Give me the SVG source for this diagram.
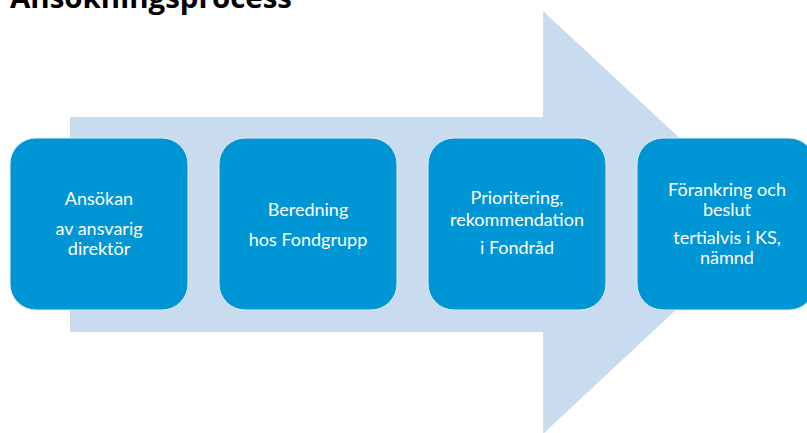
<svg xmlns="http://www.w3.org/2000/svg" width="807" height="433" viewBox="0 0 807 433">
<style>
.box{fill:#0096D6;stroke:#e6eef6;stroke-width:1}
.lbl{fill:#ffffff;font-family:Lato,"Open Sans","Liberation Sans",sans-serif;font-size:18px;text-anchor:middle}
.title{fill:#000000;font-family:"Open Sans","Liberation Sans",sans-serif;font-size:29px;font-weight:bold}
</style>
<rect width="807" height="433" fill="#ffffff"/>
<text class="title" x="10" y="8" textLength="282" lengthAdjust="spacingAndGlyphs">Ansökningsprocess</text>
<g id="arrow">
<polygon points="70,117 543,117 543,11 770,222 543,434 543,332 70,332" fill="#C9DCEF"/>
</g>
<g id="n1">
<rect class="box" x="10" y="138" width="178" height="172" rx="26"/>
<text class="lbl" x="99" y="205">Ansökan</text>
<text class="lbl" x="99" y="235">av ansvarig</text>
<text class="lbl" x="99" y="255">direktör</text>
</g>
<g id="n2">
<rect class="box" x="219" y="138" width="178" height="172" rx="26"/>
<text class="lbl" x="308" y="216">Beredning</text>
<text class="lbl" x="308" y="246">hos Fondgrupp</text>
</g>
<g id="n3">
<rect class="box" x="428" y="138" width="178" height="172" rx="26"/>
<text class="lbl" x="517" y="204">Prioritering,</text>
<text class="lbl" x="517" y="226">rekommendation</text>
<text class="lbl" x="517" y="254">i Fondråd</text>
</g>
<g id="n4">
<rect class="box" x="637" y="138" width="178" height="172" rx="26"/>
<text class="lbl" x="727" y="196">Förankring och</text>
<text class="lbl" x="727" y="216">beslut</text>
<text class="lbl" x="727" y="244">tertialvis i KS,</text>
<text class="lbl" x="727" y="264">nämnd</text>
</g>
<g id="connectors"></g>
</svg>
